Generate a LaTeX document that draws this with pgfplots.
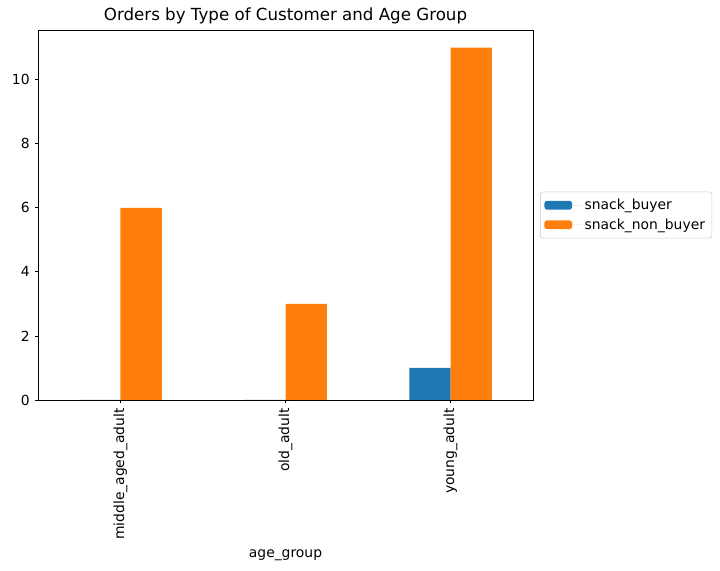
\documentclass[border=0pt]{standalone}
\usepackage{pgfplots}
\pgfplotsset{compat=1.18}
\usepackage{fontspec}
\setmainfont{DejaVu Sans}
\definecolor{mplblue}{HTML}{1F77B4}
\definecolor{mplorange}{HTML}{FF7F0E}
\begin{document}
\begin{tikzpicture}
\path[use as bounding box] (-27.36pt,-123.12pt) rectangle (491.04pt,288pt);
\begin{axis}[
  at={(0,0)}, anchor=south west,
  scale only axis, width=356.4pt, height=266.4pt,
  xmin=-0.5, xmax=2.5, ymin=0, ymax=11.55,
  xtick={0,1,2},
  xticklabels={middle\_aged\_adult, old\_adult, young\_adult},
  x tick label style={rotate=90, anchor=east},
  ytick={0,2,4,6,8,10},
  tick align=outside,
  major tick length=2.5pt,
  tick style={black, line width=0.58pt},
  axis line style={line width=0.58pt},
  xtick pos=bottom, ytick pos=left,
  ticklabel style={font=\fontsize{10}{12}\selectfont},
  /pgf/number format/assume math mode=true,
  xlabel={age\_group},
  xlabel style={font=\fontsize{10}{12}\selectfont},
  title={Orders by Type of Customer and Age Group},
  title style={font=\fontsize{12}{14}\selectfont, at={(0.5,1)}, anchor=base, yshift=0.5pt},
  legend style={at={(1,0.5)}, xshift=5pt, anchor=west, font=\fontsize{10}{12}\selectfont,
    draw=black!20, rounded corners=2pt, cells={anchor=west}, inner sep=3pt, row sep=1pt},
  legend image code/.code={\fill[#1] (0pt,-3.2pt) rectangle (20pt,3.2pt); \path (0pt,0pt) -- (27pt,0pt);},
]
\addplot[ybar, bar width=0.25, bar shift=-0.125, fill=mplblue, draw=none]
  coordinates {(0,0) (1,0) (2,1)};
\addlegendentry{snack\_buyer}
\addplot[ybar, bar width=0.25, bar shift=0.125, fill=mplorange, draw=none]
  coordinates {(0,6) (1,3) (2,11)};
\addlegendentry{snack\_non\_buyer}
\end{axis}
\end{tikzpicture}
\end{document}
